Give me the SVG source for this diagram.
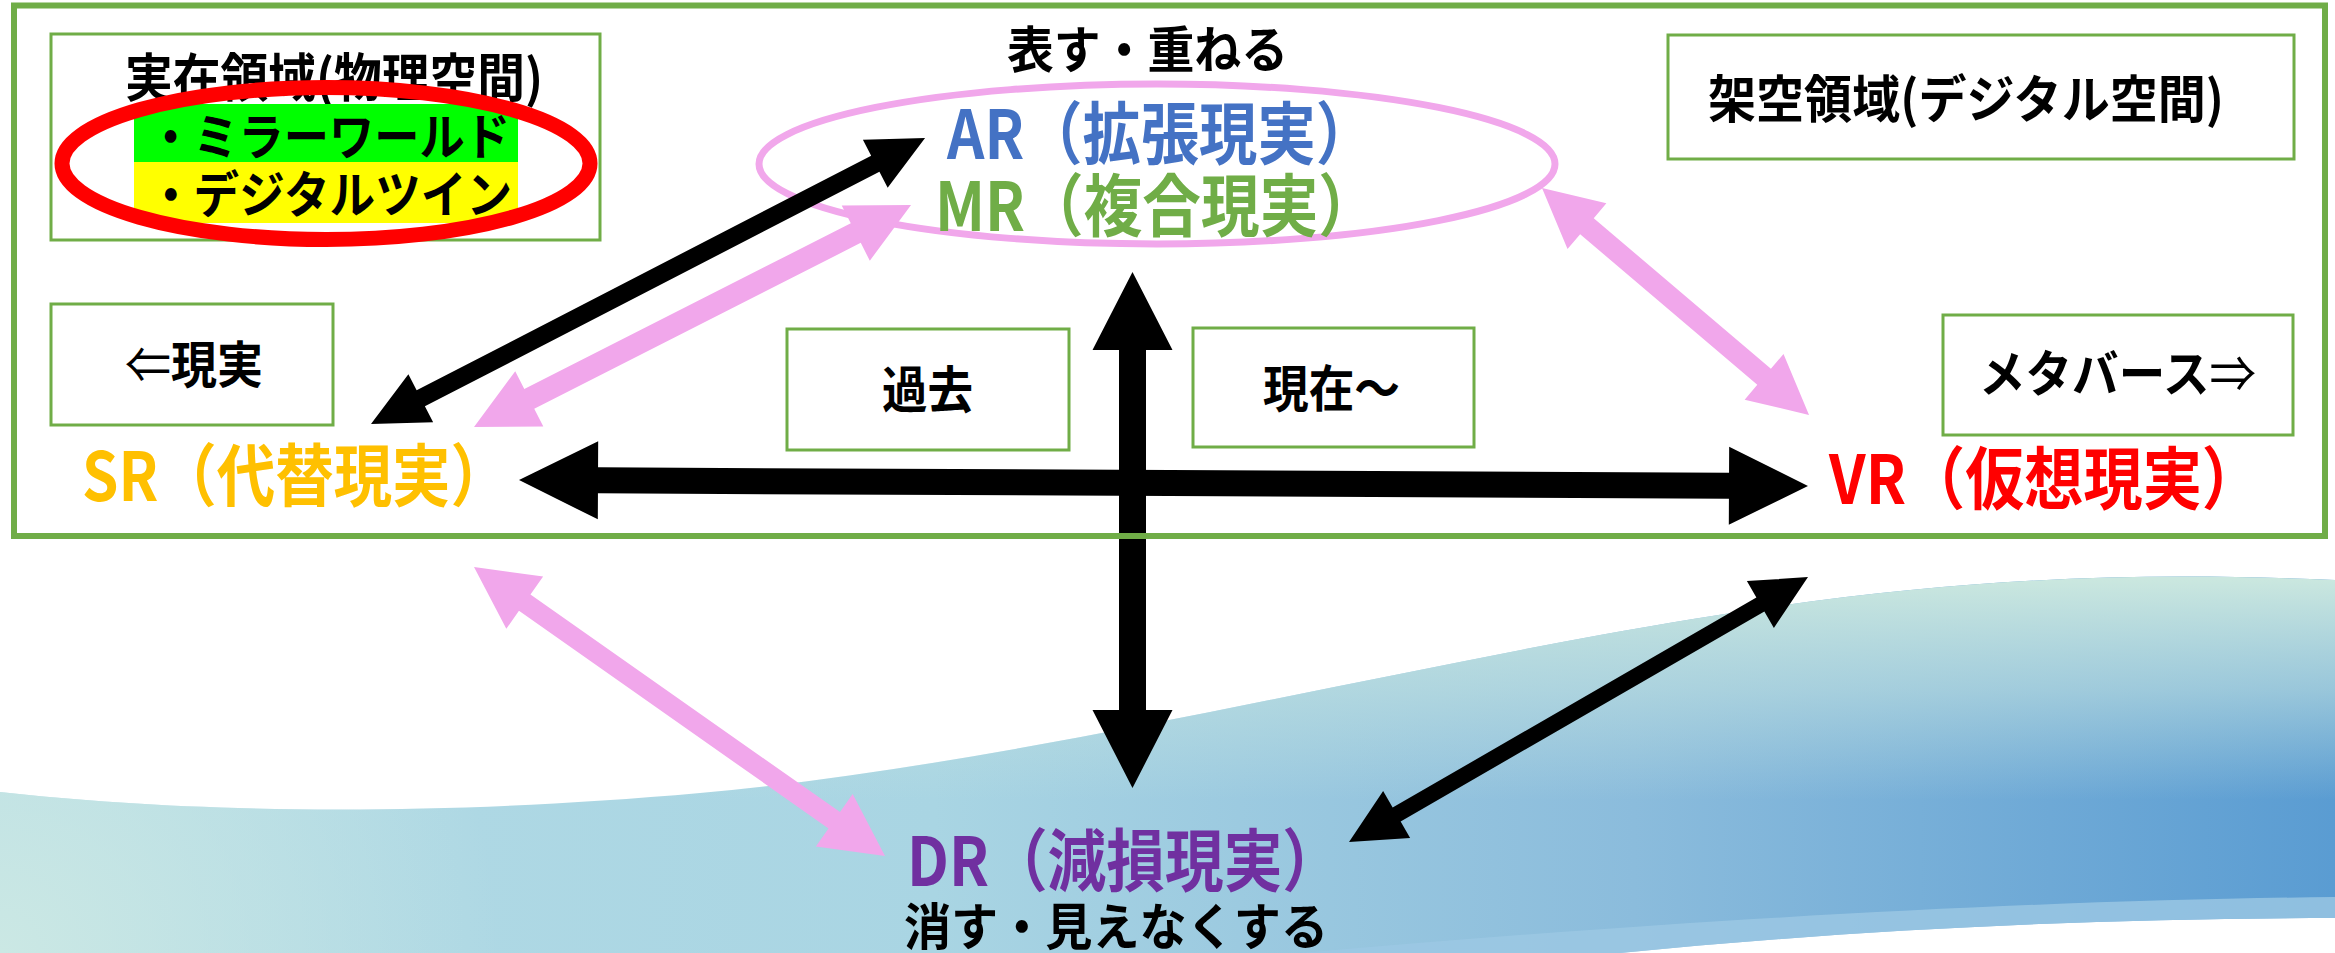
<svg xmlns="http://www.w3.org/2000/svg" width="2335" height="953" viewBox="0 0 2335 953">
<style>
.t{font-family:"Noto Sans CJK JP","Noto Sans",sans-serif;font-weight:700;fill:#000}
.thin{font-weight:400}
.box{fill:#fff;stroke:#70AD47;stroke-width:3}
.blk{fill:#000}
.pnk{fill:#F1A7EB}
</style>
<defs>
<linearGradient id="wh" x1="0" y1="0" x2="2335" y2="0" gradientUnits="userSpaceOnUse">
<stop offset="0" stop-color="#B3DBE5"/>
<stop offset="0.4" stop-color="#A9D5E3"/>
<stop offset="0.7" stop-color="#8BBCDC"/>
<stop offset="1" stop-color="#5A9CD2"/>
</linearGradient>
<linearGradient id="wv" x1="0" y1="580" x2="0" y2="800" gradientUnits="userSpaceOnUse">
<stop offset="0" stop-color="#CAE7DF" stop-opacity="1"/>
<stop offset="0.5" stop-color="#C2E2E0" stop-opacity="0.6"/>
<stop offset="1" stop-color="#C2E2E0" stop-opacity="0"/>
</linearGradient>
<radialGradient id="wl" cx="0" cy="953" r="500" gradientUnits="userSpaceOnUse">
<stop offset="0" stop-color="#CBE8E4" stop-opacity="1"/>
<stop offset="1" stop-color="#CBE8E4" stop-opacity="0"/>
</radialGradient>
</defs>
<rect width="2335" height="953" fill="#fff"/>
<g id="wave">
<path d="M0 792 C180 812 420 818 700 793 S1300 690 1600 635 S2100 570 2335 580 L2335 918 C2100 918 1850 930 1620 953 L0 953 Z" fill="url(#wh)"/>
<path d="M0 792 C180 812 420 818 700 793 S1300 690 1600 635 S2100 570 2335 580 L2335 918 C2100 918 1850 930 1620 953 L0 953 Z" fill="url(#wv)"/>
<path d="M0 792 C180 812 420 818 700 793 S1300 690 1600 635 S2100 570 2335 580 L2335 918 C2100 918 1850 930 1620 953 L0 953 Z" fill="url(#wl)"/>
<path d="M2335 897 C2050 900 1700 918 1300 953 L1620 953 C1850 930 2100 918 2335 918 Z" fill="#9CC8E3" opacity="0.8"/>
</g>
<g id="node-real">
<rect class="box" x="51" y="34" width="549" height="206"/>
<text class="t" x="125" y="97" font-size="52" textLength="418" lengthAdjust="spacingAndGlyphs">実在領域(物理空間)</text>
<rect x="134" y="104" width="384" height="58" fill="#00FF00"/>
<rect x="134" y="162" width="384" height="61" fill="#FFFF00"/>
<text class="t" x="148" y="155" font-size="50" textLength="362" lengthAdjust="spacingAndGlyphs">・ミラーワールド</text>
<text class="t" x="148" y="213" font-size="50" textLength="364" lengthAdjust="spacingAndGlyphs">・デジタルツイン</text>
<ellipse cx="326" cy="163.5" rx="264" ry="76" fill="none" stroke="#FF0000" stroke-width="15"/>
</g>
<g id="node-virtual">
<rect class="box" x="1668" y="35" width="626" height="124"/>
<text class="t" x="1708" y="118" font-size="51" textLength="516" lengthAdjust="spacingAndGlyphs">架空領域(デジタル空間)</text>
</g>
<g id="node-genjitsu">
<rect class="box" x="51" y="304" width="282" height="121"/>
<text class="t" x="125" y="383" font-size="50" textLength="138" lengthAdjust="spacingAndGlyphs"><tspan class="thin">⇐</tspan>現実</text>
</g>
<g id="node-kako">
<rect class="box" x="787" y="329" width="282" height="121"/>
<text class="t" x="882" y="408" font-size="50" textLength="91" lengthAdjust="spacingAndGlyphs">過去</text>
</g>
<g id="node-genzai">
<rect class="box" x="1193" y="328" width="281" height="119"/>
<text class="t" x="1263" y="407" font-size="50" textLength="137" lengthAdjust="spacingAndGlyphs">現在〜</text>
</g>
<g id="node-metaverse">
<rect class="box" x="1943" y="315" width="350" height="120"/>
<text class="t" x="1979" y="392" font-size="50" textLength="277" lengthAdjust="spacingAndGlyphs">メタバース<tspan class="thin">⇒</tspan></text>
</g>
<g id="node-armr">
<ellipse cx="1157" cy="164" rx="398" ry="80" fill="none" stroke="#F1A7EB" stroke-width="7"/>
<text class="t" x="1007" y="68" font-size="50" textLength="281" lengthAdjust="spacingAndGlyphs">表す・重ねる</text>
<text class="t" x="947" y="159" font-size="68" style="fill:#4472C4" textLength="427" lengthAdjust="spacingAndGlyphs">AR（拡張現実）</text>
<text class="t" x="935" y="231" font-size="68" style="fill:#70AD47" textLength="442" lengthAdjust="spacingAndGlyphs">MR（複合現実）</text>
</g>
<g id="connectors">
<polygon class="blk" transform="translate(371,424) rotate(-27.3)" points="0,0 56,-27 56,-9 567.5,-9 567.5,-27 623.5,0 567.5,27 567.5,9 56,9 56,27"/>
<polygon class="pnk" transform="translate(474,427) rotate(-26.93)" points="0,0 62,-31 62,-11 428.2,-11 428.2,-31 490.2,0 428.2,31 428.2,11 62,11 62,31"/>
<polygon class="blk" transform="translate(519,480) rotate(0.27)" points="0,0 79,-39 79,-13 1210,-13 1210,-39 1289,0 1210,39 1210,13 79,13 79,39"/>
<polygon class="blk" transform="translate(1132.5,272) rotate(90)" points="0,0 78,-40 78,-13.5 438,-13.5 438,-40 516,0 438,40 438,13.5 78,13.5 78,40"/>
<polygon class="pnk" transform="translate(1542,188) rotate(40.37)" points="0,0 59,-30 59,-10.5 291.5,-10.5 291.5,-30 350.5,0 291.5,30 291.5,10.5 59,10.5 59,30"/>
<polygon class="pnk" transform="translate(474,567) rotate(35.11)" points="0,0 62,-32 62,-10 440.4,-10 440.4,-32 502.4,0 440.4,32 440.4,10 62,10 62,32"/>
<polygon class="blk" transform="translate(1808,577) rotate(150)" points="0,0 55,-27 55,-8 475,-8 475,-27 530,0 475,27 475,8 55,8 55,27"/>
</g>
<g id="frame">
<rect x="14" y="5.5" width="2311" height="530.5" fill="none" stroke="#70AD47" stroke-width="6"/>
</g>
<g id="node-sr">
<text class="t" x="82" y="501" font-size="68" style="fill:#FFC000" textLength="427" lengthAdjust="spacingAndGlyphs">SR（代替現実）</text>
</g>
<g id="node-vr">
<text class="t" x="1829" y="504" font-size="68" style="fill:#FF0000" textLength="432" lengthAdjust="spacingAndGlyphs">VR（仮想現実）</text>
</g>
<g id="node-dr">
<text class="t" x="907" y="886" font-size="68" style="fill:#7030A0" textLength="434" lengthAdjust="spacingAndGlyphs">DR（減損現実）</text>
<text class="t" x="904" y="945" font-size="50" textLength="424" lengthAdjust="spacingAndGlyphs">消す・見えなくする</text>
</g>
</svg>
